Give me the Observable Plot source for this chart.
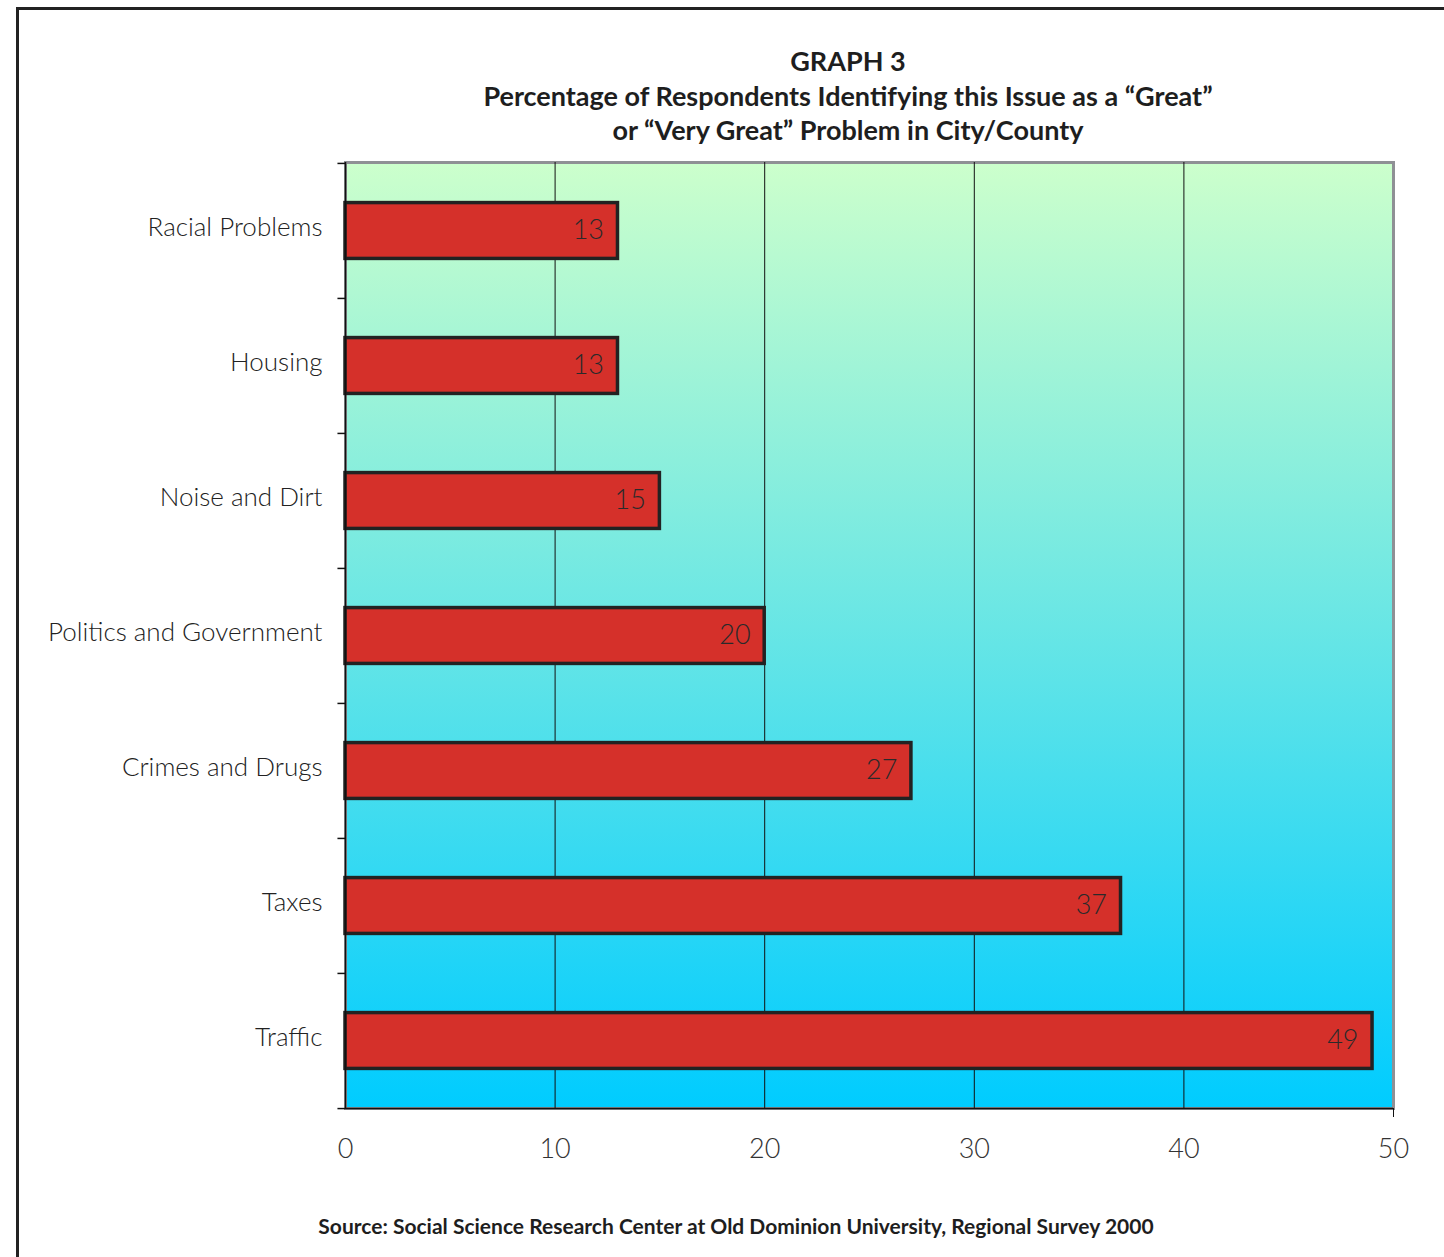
<!DOCTYPE html>
<html>
<head>
<meta charset="utf-8">
<script src="https://cdn.jsdelivr.net/npm/d3@7"></script>
<script src="https://cdn.jsdelivr.net/npm/@observablehq/plot@0.6"></script>
<style>
  html, body { margin: 0; padding: 0; background: #fff; width: 1444px; height: 1257px; overflow: hidden; }
  #frame { position: absolute; left: 16px; top: 7px; width: 1460px; height: 1300px; border: 3px solid #222; box-sizing: border-box; }
  #title { position: absolute; left: 0; top: 44px; width: 1696px; text-align: center; font-family: Lato, "DejaVu Sans", sans-serif; font-weight: 700; font-size: 27px; line-height: 34.5px; color: #1e1e1e; }
  #chart { position: absolute; left: 0; top: 150px; }
  #caption { position: absolute; left: 0; top: 1213px; width: 1472px; text-align: center; font-family: Lato, "DejaVu Sans", sans-serif; font-weight: 700; font-size: 21px; color: #1e1e1e; }
</style>
</head>
<body>
<div id="frame"></div>
<div id="title">GRAPH 3<br>Percentage of Respondents Identifying this Issue as a “Great”<br>or “Very Great” Problem in City/County</div>
<div id="chart"></div>
<div id="caption">Source: Social Science Research Center at Old Dominion University, Regional Survey 2000</div>
<script>
const categories = ["Racial Problems", "Housing", "Noise and Dirt", "Politics and Government", "Crimes and Drugs", "Taxes", "Traffic"];
const values = [13, 13, 15, 20, 27, 37, 49];
const xTicks = [0, 10, 20, 30, 40, 50];
const gridLines = [10, 20, 30, 40];

const data = categories.map((c, i) => ({category: c, value: values[i]}));

const W = 1444, H = 1020, mt = 12, mb = 62, ml = 345, mr = 51;
const step = (H - mt - mb) / categories.length;
const barH = 56;
const inset = (step - barH) / 2;
const font = "Lato, 'Open Sans', sans-serif";

const plot = Plot.plot({
  width: W,
  height: H,
  marginTop: mt,
  marginBottom: mb,
  marginLeft: ml,
  marginRight: mr,
  style: {fontFamily: font, background: "transparent", overflow: "visible"},
  x: {domain: [0, 50]},
  y: {domain: categories, padding: 0},
  marks: [
    Plot.frame({fill: "url(#bggrad)", stroke: "#8f9095", strokeWidth: 3}),
    Plot.ruleX(gridLines, {stroke: "#111", strokeWidth: 1}),
    Plot.barX(data, {x: "value", y: "category", fill: "#d5302a", stroke: "#222", strokeWidth: 3.5, insetTop: inset, insetBottom: inset}),
    Plot.text(data, {x: "value", y: "category", text: d => String(d.value), textAnchor: "end", dx: -14, dy: -1, fontSize: 27, fontWeight: 300, fill: "#2a2a2a", style: {letterSpacing: "1px"}}),
    // left axis line and bottom axis line
    Plot.ruleX([0], {stroke: "#111", strokeWidth: 1.5}),
    Plot.ruleY(categories.slice(-1), {y: d => d, dy: step / 2, x1: 0, x2: 50, stroke: "#111", strokeWidth: 1.5}),
    // boundary ticks on the left
    Plot.ruleY(categories, {y: d => d, dy: -step / 2, x1: -0.36, x2: 0, stroke: "#111", strokeWidth: 1.5}),
    Plot.ruleY(categories.slice(-1), {y: d => d, dy: step / 2, x1: -0.36, x2: 0, stroke: "#111", strokeWidth: 1.5}),
    Plot.axisY({tickSize: 0, tickPadding: 23, dy: -3, fontSize: 26, fontWeight: 300, label: null, color: "#222"}),
    Plot.axisX({ticks: xTicks, tickSize: 0, tickPadding: 30, fontSize: 27, fontWeight: 300, label: null, color: "#333", tickFormat: d => String(d)}),
    Plot.axisX({ticks: [50], tickSize: 9, tickFormat: () => "", label: null, stroke: "#111"})
  ]
});

const svg = d3.select(plot);
const defs = svg.insert("defs", ":first-child");
const g = defs.append("linearGradient").attr("id", "bggrad").attr("x1", 0).attr("y1", 0).attr("x2", 0).attr("y2", 1);
g.append("stop").attr("offset", "0%").attr("stop-color", "#ccffcc");
g.append("stop").attr("offset", "100%").attr("stop-color", "#00ccff");

document.getElementById("chart").appendChild(plot);
</script>
</body>
</html>
